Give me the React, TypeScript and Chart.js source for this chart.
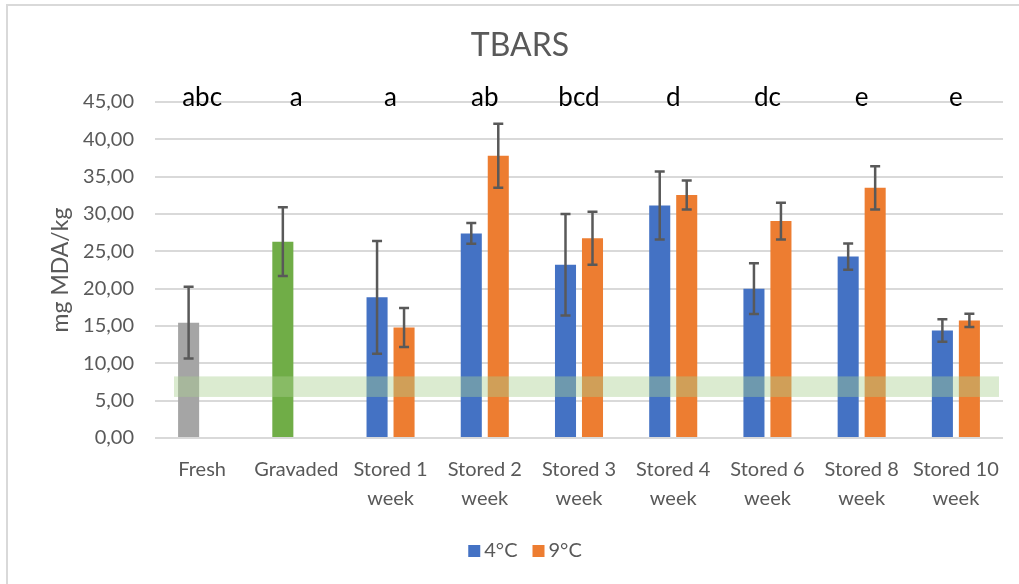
import React, { useEffect, useRef } from "react";
import { Chart, registerables } from "chart.js";

Chart.register(...registerables);

// ---------- data ----------
const categories: string[][] = [
  ["Fresh"],
  ["Gravaded"],
  ["Stored 1", "week"],
  ["Stored 2", "week"],
  ["Stored 3", "week"],
  ["Stored 4", "week"],
  ["Stored 6", "week"],
  ["Stored 8", "week"],
  ["Stored 10", "week"],
];
const seriesNames = ["4°C", "9°C"];
const values4C: (number | null)[] = [15.45, 26.3, 18.85, 27.4, 23.2, 31.15, 20.0, 24.3, 14.4];
const errors4C: (number | null)[] = [4.8, 4.6, 7.55, 1.4, 6.8, 4.55, 3.4, 1.75, 1.5];
const values9C: (number | null)[] = [null, null, 14.8, 37.8, 26.75, 32.55, 29.05, 33.5, 15.75];
const errors9C: (number | null)[] = [null, null, 2.6, 4.3, 3.55, 1.95, 2.45, 2.9, 0.9];
const letters = ["abc", "a", "a", "ab", "bcd", "d", "dc", "e", "e"];
const bandRange = [5.5, 8.25];
const yMin = 0;
const yMax = 45;
const yStep = 5;
const titleText = "TBARS";
const yTitle = "mg MDA/kg";

// ---------- styles ----------
const FONT = "Lato, 'Open Sans', sans-serif";
const TEXT_GREY = "#595959";
const colors4C = ["#A5A5A5", "#70AD47", "#4472C4", "#4472C4", "#4472C4", "#4472C4", "#4472C4", "#4472C4", "#4472C4"];
const color9C = "#ED7D31";
const legendColors = ["#4472C4", "#ED7D31"];

const errorBarPlugin = {
  id: "errorBars",
  afterDatasetsDraw(chart: any) {
    const { ctx } = chart;
    const y = chart.scales.y;
    const errs = [errors4C, errors9C];
    const vals = [values4C, values9C];
    ctx.save();
    ctx.strokeStyle = "#595959";
    ctx.lineWidth = 2.5;
    chart.data.datasets.forEach((_: any, di: number) => {
      const meta = chart.getDatasetMeta(di);
      meta.data.forEach((bar: any, i: number) => {
        const v = vals[di][i];
        const e = errs[di][i];
        if (v == null || e == null) return;
        const x = bar.x;
        const yt = y.getPixelForValue(v + e);
        const yb = y.getPixelForValue(v - e);
        ctx.beginPath();
        ctx.moveTo(x, yt);
        ctx.lineTo(x, yb);
        ctx.moveTo(x - 5, yt);
        ctx.lineTo(x + 5, yt);
        ctx.moveTo(x - 5, yb);
        ctx.lineTo(x + 5, yb);
        ctx.stroke();
      });
    });
    // band
    const { left, right } = chart.chartArea;
    const top = y.getPixelForValue(bandRange[1]);
    const bottom = y.getPixelForValue(bandRange[0]);
    ctx.fillStyle = "rgba(169, 208, 142, 0.42)";
    ctx.fillRect(left + 19, top, right - 4 - (left + 19), bottom - top);
    ctx.restore();
  },
};

const annotationPlugin = {
  id: "letterAndLegend",
  afterDraw(chart: any) {
    const { ctx } = chart;
    const x = chart.scales.x;
    const y = chart.scales.y;
    ctx.save();
    // significance letters
    ctx.font = `26px ${FONT}`;
    ctx.fillStyle = "#000000";
    ctx.textAlign = "center";
    ctx.textBaseline = "alphabetic";
    const ly = y.getPixelForValue(yMax) + 4;
    letters.forEach((l, i) => {
      ctx.fillText(l, x.getPixelForValue(i), ly);
    });
    // legend
    ctx.font = `20px ${FONT}`;
    ctx.textAlign = "left";
    const box = 12;
    const gap = 4;
    const spacing = 15;
    const widths = seriesNames.map((s) => ctx.measureText(s).width);
    const total = widths.reduce((a, w) => a + box + gap + w, 0) + spacing * (seriesNames.length - 1);
    let cx = chart.width / 2 + 5 - total / 2;
    const baseY = 557;
    seriesNames.forEach((s, i) => {
      ctx.fillStyle = legendColors[i];
      ctx.fillRect(cx, baseY - box, box, box);
      cx += box + gap;
      ctx.fillStyle = TEXT_GREY;
      ctx.fillText(s, cx, baseY);
      cx += widths[i] + spacing;
    });
    ctx.restore();
  },
};

export default function App() {
  const ref = useRef<HTMLCanvasElement | null>(null);

  useEffect(() => {
    let chart: Chart | null = null;
    let cancelled = false;
    const make = () => {
      if (cancelled || !ref.current) return;
      chart = new Chart(ref.current, {
        type: "bar",
        data: {
          labels: categories,
          datasets: [
            {
              label: seriesNames[0],
              data: values4C,
              backgroundColor: colors4C,
              categoryPercentage: 0.573,
              barPercentage: 0.78,
            },
            {
              label: seriesNames[1],
              data: values9C,
              backgroundColor: color9C,
              categoryPercentage: 0.573,
              barPercentage: 0.78,
            },
          ],
        },
        options: {
          animation: false,
          responsive: false,
          maintainAspectRatio: false,
          layout: { padding: { left: 37, right: 37, top: 0, bottom: 0 } },
          plugins: {
            legend: { display: false },
            tooltip: { enabled: false },
            title: {
              display: true,
              text: titleText,
              color: TEXT_GREY,
              font: { family: FONT, size: 32, weight: "normal", lineHeight: 1.2 },
              padding: { top: 26.4, bottom: 37.2 },
            },
          },
          scales: {
            x: {
              grid: { display: false, drawTicks: false },
              border: { display: false },
              ticks: {
                color: TEXT_GREY,
                font: { family: FONT, size: 20, lineHeight: 1.45 },
                padding: 17,
                maxRotation: 0,
                autoSkip: false,
              },
              afterFit: (scale: any) => {
                scale.height = 146;
              },
            },
            y: {
              min: yMin,
              max: yMax,
              grid: { color: "#D9D9D9", lineWidth: 2, drawTicks: false },
              border: { display: false },
              ticks: {
                stepSize: yStep,
                color: TEXT_GREY,
                font: { family: FONT, size: 20 },
                padding: 21,
                callback: (v: any) => Number(v).toFixed(2).replace(".", ","),
              },
              title: {
                display: true,
                text: yTitle,
                color: TEXT_GREY,
                font: { family: FONT, size: 23, lineHeight: 1.2 },
                padding: { top: 10, bottom: 0 },
              },
              afterFit: (scale: any) => {
                scale.width = 118;
              },
            },
          },
        },
        plugins: [errorBarPlugin, annotationPlugin],
      } as any);
    };
    const fontsReady = (document as any).fonts
      ? Promise.all([
          (document as any).fonts.load(`20px Lato`),
          (document as any).fonts.load(`26px Lato`),
        ]).catch(() => null)
      : Promise.resolve(null);
    fontsReady.then(make);
    return () => {
      cancelled = true;
      if (chart) chart.destroy();
    };
  }, []);

  return (
    <div
      style={{
        position: "absolute",
        left: 0,
        top: 0,
        width: 1019,
        height: 584,
        overflow: "hidden",
        background: "#ffffff",
      }}
    >
      <canvas ref={ref} width={1040} height={584} style={{ display: "block" }} />
      <div
        style={{
          position: "absolute",
          left: 6,
          top: 4,
          width: 1100,
          height: 700,
          borderTop: "2px solid #D9D9D9",
          borderLeft: "2px solid #D9D9D9",
          pointerEvents: "none",
        }}
      />
    </div>
  );
}
